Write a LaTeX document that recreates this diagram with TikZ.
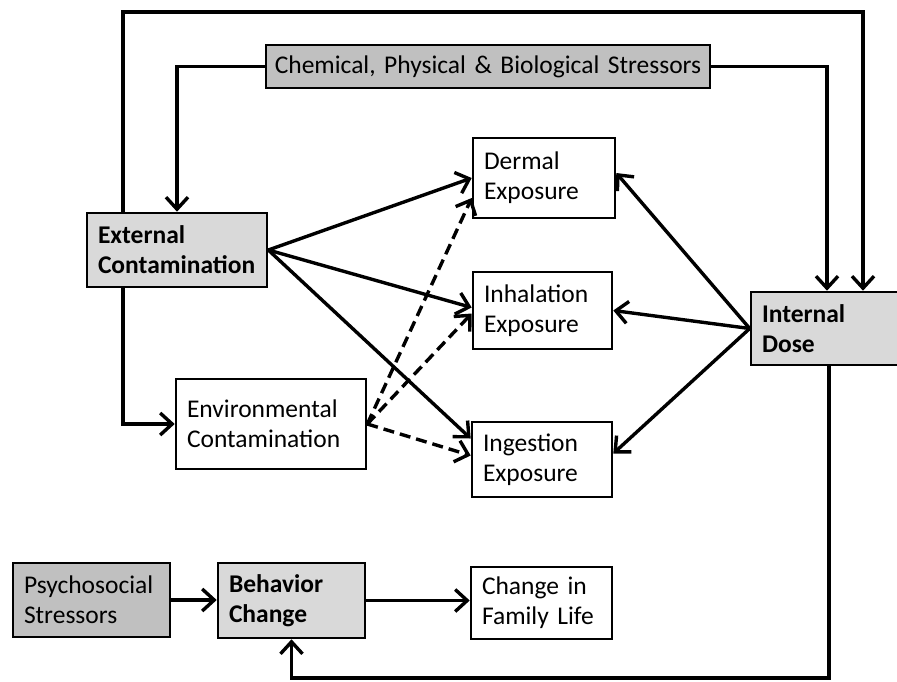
\documentclass[tikz,border=0pt]{standalone}
\usepackage{fontspec}
\setmainfont{Carlito}
\usetikzlibrary{arrows.meta,calc}
\definecolor{darkfill}{RGB}{192,192,192}
\definecolor{lightfill}{RGB}{217,217,217}
\begin{document}
\begin{tikzpicture}[x=1pt, y=-1pt, >={Straight Barb[length=12pt,width=22pt]}, line width=3.4pt,
  box/.style={draw, line width=2.6pt, inner xsep=11pt, inner ysep=0pt, align=left,
    font=\fontsize{25.5}{30}\selectfont},
  dashedarrow/.style={->, dash pattern=on 11pt off 6pt}]
\useasboundingbox (0,0) rectangle (897,681);

% boxes
\node [box, fill=darkfill, align=center, inner xsep=4pt, text width=436pt, minimum height=43pt] (stress) at (488,66.5) {Chemical, Physical \& Biological Stressors};
\node [box, fill=lightfill, text width=158pt, minimum height=74pt] (ext) at (177,250) {\textbf{External}\\\textbf{Contamination}};
\node [box, text width=168pt, minimum height=90pt] (env) at (271,424) {Environmental\\Contamination};
\node [box, text width=120pt, minimum height=80pt] (derm) at (544,178) {Dermal\\Exposure};
\node [box, text width=117pt, minimum height=77pt] (inh) at (542.5,310.5) {Inhalation\\Exposure};
\node [box, text width=118pt, minimum height=75pt] (ing) at (542,459.5) {Ingestion\\Exposure};
\node [box, fill=lightfill, text width=126pt, minimum height=73pt] (dose) at (825,328.5) {\textbf{Internal}\\\textbf{Dose}};
\node [box, fill=darkfill, text width=135pt, minimum height=74pt] (psy) at (91.5,600) {Psychosocial\\Stressors};
\node [box, fill=lightfill, text width=125pt, minimum height=75pt] (beh) at (291.5,600.5) {\textbf{Behavior}\\\textbf{Change}};
\node [box, text width=119pt, minimum height=72pt] (fam) at (541.5,603) {Change in\\Family Life};

% loops round the outside
\coordinate (tl) at (123,12);
\coordinate (tr) at (863,12);
\coordinate (br) at (829,678);
\draw [->] (ext.north -| tl) -- (tl) -- (tr) -- (tr |- dose.north);
\draw [->] (ext.south -| tl) |- (env.west);
\draw [->] (stress.west) -| (ext.north);
\draw [->] (stress.east) -| ($(dose.north)+(2,0)$);
\draw [->] (br |- dose.south) -- (br) -| (beh.south);

% routes of exposure
\foreach \t/\dy in {derm/0, inh/-3, ing/-21}
	\draw [->] (ext.east) -- ($(\t.west)+(0,\dy)$);
\foreach \t/\dy in {derm/20, inh/3, ing/-4}
	\draw [dashedarrow] (env.east) -- ($(\t.west)+(0,\dy)$);
\foreach \t/\dy in {derm/-5, inh/0, ing/-6}
	\draw [->] (dose.west) -- ($(\t.east)+(0,\dy)$);

\draw [->] (psy.east) -- (beh.west |- psy.east);
\draw [->] (beh.east) -- (fam.west |- beh.east);

\end{tikzpicture}
\end{document}
